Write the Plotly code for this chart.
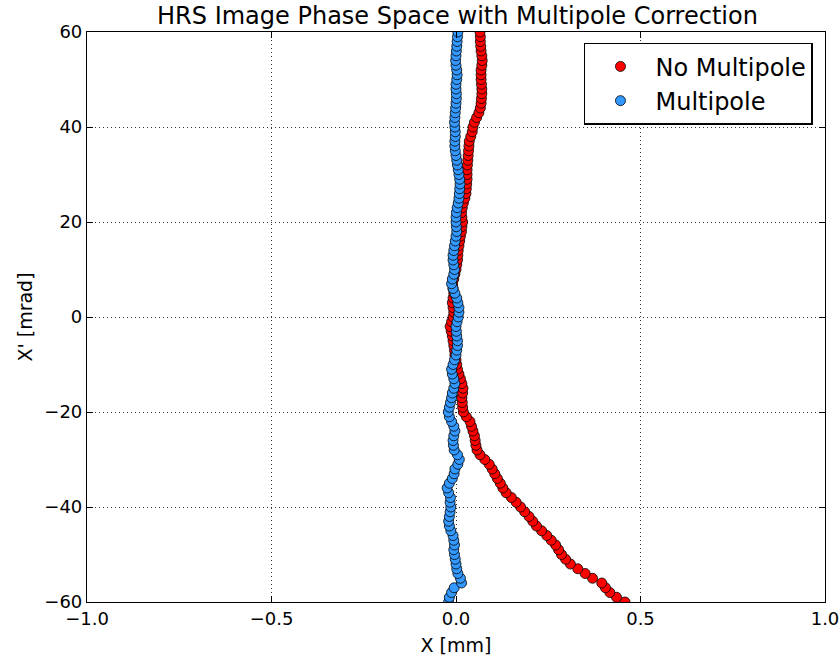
import plotly.graph_objects as go

# X' sample positions [mrad], shared by both series
xp_mrad = [-60, -59, -58, -57, -56, -55, -54, -53, -52, -51, -50, -49, -48, -47, -46,
           -45, -44, -43, -42, -41, -40, -39, -38, -37, -36, -35, -34, -33, -32, -31,
           -30, -29, -28, -27, -26, -25, -24, -23, -22, -21, -20, -19, -18, -17, -16,
           -15, -14, -13, -12, -11, -10, -9, -8, -7, -6, -5, -4, -3, -2, -1,
           0, 1, 2, 3, 4, 5, 6, 7, 8, 9, 10, 11, 12, 13, 14,
           15, 16, 17, 18, 19, 20, 21, 22, 23, 24, 25, 26, 27, 28, 29,
           30, 31, 32, 33, 34, 35, 36, 37, 38, 39, 40, 41, 42, 43, 44,
           45, 46, 47, 48, 49, 50, 51, 52, 53, 54, 55, 56, 57, 58, 59, 60]

# Image X [mm] without multipole correction
x_no_multipole = [0.458, 0.435, 0.417, 0.405, 0.395, 0.370, 0.350, 0.330, 0.310, 0.297,
                  0.286, 0.278, 0.270, 0.258, 0.246, 0.232, 0.218, 0.208, 0.198, 0.186,
                  0.175, 0.163, 0.150, 0.136, 0.127, 0.120, 0.112, 0.105, 0.098, 0.090,
                  0.078, 0.065, 0.057, 0.054, 0.052, 0.050, 0.046, 0.042, 0.038, 0.028,
                  0.020, 0.018, 0.017, 0.016, 0.018, 0.019, 0.016, 0.012, 0.008, 0.004,
                  0.002, 0.000, -0.003, -0.004, -0.006, -0.008, -0.010, -0.013, -0.016, -0.012,
                  -0.008, -0.006, -0.008, -0.010, -0.008, -0.006, -0.008, -0.009, -0.006, -0.003,
                  0.000, 0.002, 0.004, 0.005, 0.006, 0.008, 0.010, 0.012, 0.015, 0.016,
                  0.018, 0.016, 0.015, 0.017, 0.020, 0.024, 0.027, 0.028, 0.029, 0.030,
                  0.030, 0.030, 0.031, 0.032, 0.033, 0.034, 0.035, 0.036, 0.040, 0.044,
                  0.046, 0.050, 0.056, 0.062, 0.066, 0.068, 0.069, 0.070, 0.070, 0.069,
                  0.068, 0.068, 0.068, 0.070, 0.071, 0.070, 0.068, 0.067, 0.066, 0.066, 0.065]

# Image X [mm] with multipole correction
x_multipole = [-0.020, -0.018, -0.012, -0.005, 0.015, 0.012, 0.005, 0.002, 0.000, -0.002,
               -0.004, -0.006, -0.004, -0.006, -0.008, -0.014, -0.018, -0.020, -0.018, -0.016,
               -0.014, -0.016, -0.015, -0.020, -0.024, -0.018, -0.010, -0.005, -0.003, 0.005,
               0.009, 0.004, -0.005, -0.007, -0.008, -0.006, -0.003, -0.006, -0.012, -0.018,
               -0.021, -0.018, -0.015, -0.012, -0.010, -0.006, -0.003, -0.006, -0.010, -0.012,
               -0.008, -0.004, 0.000, 0.002, 0.004, 0.004, 0.002, 0.001, 0.000, 0.003,
               0.006, 0.008, 0.008, 0.005, 0.002, -0.003, -0.008, -0.012, -0.010, -0.006,
               -0.004, -0.006, -0.008, -0.008, -0.006, -0.004, -0.002, 0.000, 0.002, 0.001,
               0.000, 0.000, 0.001, 0.003, 0.006, 0.008, 0.009, 0.010, 0.011, 0.010,
               0.008, 0.006, 0.004, 0.002, 0.000, -0.002, -0.003, -0.003, -0.002, -0.002,
               -0.003, -0.004, -0.003, -0.002, -0.001, 0.000, 0.001, 0.001, 0.000, 0.000,
               0.002, 0.003, 0.002, 0.000, -0.001, 0.000, 0.001, 0.002, 0.003, 0.004, 0.005]

x_ticks = [-1.0, -0.5, 0.0, 0.5, 1.0]
x_tick_text = ["\u22121.0", "\u22120.5", "0.0", "0.5", "1.0"]
y_ticks = [-60, -40, -20, 0, 20, 40, 60]
y_tick_text = ["\u221260", "\u221240", "\u221220", "0", "20", "40", "60"]

FONT = "DejaVu Sans"

fig = go.Figure()
fig.add_trace(go.Scatter(
    x=x_no_multipole, y=xp_mrad, mode="markers", name="No Multipole",
    marker=dict(size=10, color="#ff0000", line=dict(color="black", width=0.8)),
))
fig.add_trace(go.Scatter(
    x=x_multipole, y=xp_mrad, mode="markers", name="Multipole",
    marker=dict(size=10, color="#3399ff", line=dict(color="black", width=0.8)),
))

axis_common = dict(
    showline=True, linecolor="black", linewidth=1.2, mirror="ticks",
    ticks="inside", ticklen=6, tickcolor="black", tickwidth=1,
    showgrid=True, gridcolor="#333333", griddash="1px,3px", gridwidth=1,
    zeroline=False, automargin=False,
    tickfont=dict(family=FONT, size=18, color="black"),
)

fig.update_layout(
    width=840, height=663,
    margin=dict(l=87, r=15, t=32, b=61),
    paper_bgcolor="white", plot_bgcolor="white",
    font=dict(family=FONT, color="black"),
    title=dict(text="HRS Image Phase Space with Multipole Correction",
               font=dict(family=FONT, size=24, color="black"),
               x=0.5446, xanchor="center", y=0.976, yanchor="middle"),
    xaxis=dict(range=[-1, 1], tickvals=x_ticks, ticktext=x_tick_text,
               title=dict(text="X [mm]", font=dict(family=FONT, size=19), standoff=10),
               **axis_common),
    yaxis=dict(range=[-60, 60], tickvals=y_ticks, ticktext=y_tick_text,
               title=dict(text="X' [mrad]", font=dict(family=FONT, size=19), standoff=6),
               **axis_common),
    legend=dict(x=0.9837, y=0.981, xanchor="right", yanchor="top",
                bgcolor="white", bordercolor="black", borderwidth=1.5,
                font=dict(family=FONT, size=24, color="black"),
                itemwidth=60, tracegroupgap=0),
    showlegend=True,
)

fig.write_html("out.html")
